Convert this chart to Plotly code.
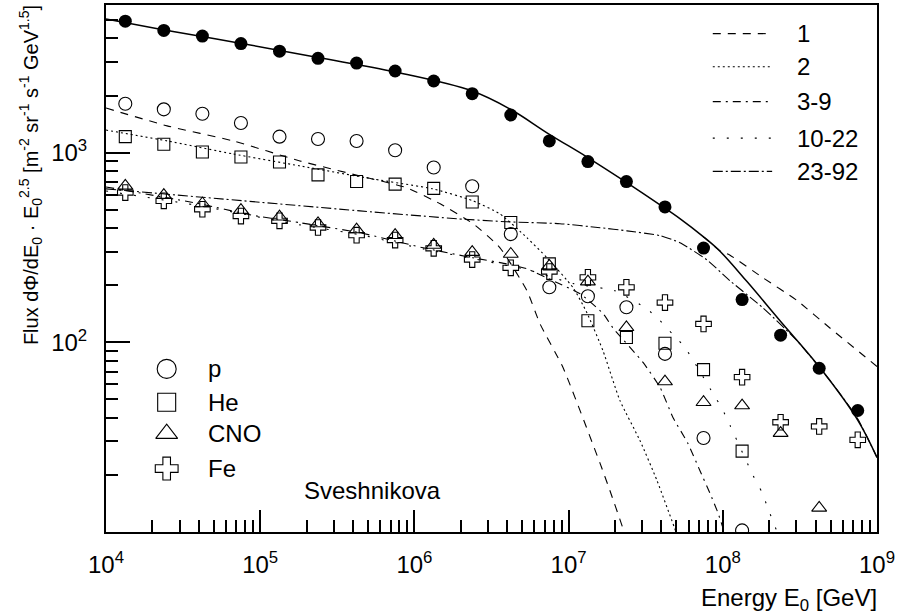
import plotly.graph_objects as go

FONT = "Liberation Sans, Arial, sans-serif"

# ---------------- data points (Sveshnikova) ----------------
energy_pts = [1.334e4, 2.371e4, 4.217e4, 7.499e4, 1.334e5, 2.371e5, 4.217e5, 7.499e5,
              1.334e6, 2.371e6, 4.217e6, 7.499e6, 1.334e7, 2.371e7, 4.217e7, 7.499e7,
              1.334e8, 2.371e8, 4.217e8, 7.499e8]

flux_all = [4931, 4405, 4113, 3757, 3428, 3140, 2966, 2693, 2385, 2045,
            1579, 1152, 897, 704, 517, 314, 168, 109, 73, 43.7]
flux_p = [1811, 1691, 1603, 1432, 1214, 1180, 1152, 1030, 834, 665,
          372, 195, 175, 153, 86.9, 31.3, 10.2]
flux_he = [1214, 1107, 1008, 949, 893, 763, 704, 682, 648, 549,
           428, 259, 130, 106, 98.8, 71.8, 26.7]
flux_cno = [668, 597, 539, 498, 459, 423, 393, 367, 326, 299,
            292, 253, 209, 120, 62.1, 48.3, 46.4, 33.2, 13.4]
flux_fe = [616, 557, 503, 463, 437, 403, 367, 346, 313, 273,
           247, 236, 220, 195, 162, 125, 65.5, 37.9, 36.0, 30.6]

# ---------------- model curves ----------------
e_total = [1.0e4, 2.34e4, 7.40e4, 2.37e5, 7.48e5, 2.37e6, 4.17e6, 7.46e6, 1.315e7, 2.29e7,
           4.09e7, 5.27e7, 7.43e7, 9.59e7, 1.435e8, 2.35e8, 4.21e8, 7.53e8, 1.0e9]
f_total = [5058, 4446, 3776, 3170, 2661, 2113, 1698, 1253, 948, 710,
           518, 449, 362, 302, 209, 130, 74.5, 38.7, 24.7]

e_z1 = [1.0e4, 2.49e4, 6.67e4, 1.81e5, 4.44e5, 8.95e5, 1.47e6, 2.40e6, 3.59e6, 5.37e6,
        6.53e6, 9.20e6, 1.60e7, 1.85e7, 2.29e7, 2.45e7]
f_z1 = [1718, 1384, 1153, 904, 753, 652, 537, 422, 315, 187,
        125, 73.6, 23.0, 16.6, 10.0, 8.0]

e_z2 = [1.0e4, 2.49e4, 6.67e4, 1.81e5, 5.40e5, 1.32e6, 2.40e6, 3.59e6, 5.37e6, 7.24e6,
        1.07e7, 1.315e7, 1.67e7, 2.15e7, 2.90e7, 3.74e7, 4.97e7, 5.30e7]
f_z2 = [1315, 1153, 984, 851, 726, 644, 557, 475, 356, 279,
        194, 143, 90.4, 49.4, 30.4, 18.7, 10.0, 8.5]

e_z3_9 = [1.0e4, 4.07e4, 8.59e4, 1.81e5, 4.44e5, 1.14e6, 2.40e6, 3.98e6, 5.37e6, 7.93e6,
          1.19e7, 1.67e7, 1.94e7, 3.04e7, 3.92e7, 4.75e7, 5.94e7, 7.10e7, 8.26e7, 9.31e7,
          1.02e8, 1.06e8]
f_z3_9 = [659, 537, 470, 427, 378, 315, 279, 259, 244, 211,
          180, 142, 119, 78.3, 57.8, 40.2, 29.3, 21.1, 16.0, 12.6,
          10.0, 8.8]

e_z10_22 = [1.0e4, 4.07e4, 1.81e5, 4.44e5, 1.14e6, 2.40e6, 3.98e6, 5.37e6, 1.07e7, 2.00e7,
            3.22e7, 3.92e7, 4.69e7, 5.69e7, 8.63e7, 9.89e7, 1.114e8, 1.57e8, 1.795e8, 1.963e8,
            2.25e8, 2.35e8]
f_z10_22 = [628, 524, 416, 369, 311, 276, 254, 242, 204, 187,
            150, 130, 111, 93.8, 53.8, 44.8, 36.5, 19.9, 16.2, 13.3,
            10.0, 9.0]

e_z23_92 = [1.0e4, 4.44e5, 1.89e6, 3.98e6, 8.79e6, 1.60e7, 2.39e7, 3.92e7, 5.27e7, 7.89e7,
            1.114e8, 1.82e8, 3.03e8, 4.95e8, 7.41e8, 1.0e9]
f_z23_92 = [644, 493, 448, 432, 422, 402, 387, 365, 335, 272,
            211, 152, 102, 63.0, 40.2, 24.7]

# extra dashed component at the highest energies
e_z1_high = [7.43e7, 9.59e7, 1.114e8, 1.82e8, 3.03e8, 4.95e8, 1.0e9]
f_z1_high = [362, 304, 288, 219, 166, 119, 74.6]

# ---------------- labels ----------------
legend_lines = ["1", "2", "3-9", "10-22", "23-92"]
legend_markers = ["p", "He", "CNO", "Fe"]
x_tickvals = [1e4, 1e5, 1e6, 1e7, 1e8, 1e9]
x_ticktext = ["10<sup>4</sup>", "10<sup>5</sup>", "10<sup>6</sup>",
              "10<sup>7</sup>", "10<sup>8</sup>", "10<sup>9</sup>"]
y_tickvals = [100, 1000]
y_ticktext = ["10<sup>2</sup>", "10<sup>3</sup>"]

# ---------------- styles ----------------
dashes = {
    "1": "8px,7px",
    "2": "2px,3px",
    "3-9": "8px,5px,2px,5px",
    "10-22": "2px,12px",
    "23-92": "10px,3px,2px,3px",
}
symbols = {"p": "circle-open", "He": "square-open", "CNO": "triangle-up-open", "Fe": "cross-open"}
sizes = {"p": 13, "He": 12, "CNO": 13, "Fe": 13}

fig = go.Figure()

curve_data = [("1", e_z1, f_z1), ("2", e_z2, f_z2), ("3-9", e_z3_9, f_z3_9),
              ("10-22", e_z10_22, f_z10_22), ("23-92", e_z23_92, f_z23_92)]
for name, ex, fy in curve_data:
    fig.add_trace(go.Scatter(x=ex, y=fy, mode="lines", showlegend=False,
                             line=dict(color="black", width=1.1, dash=dashes[name],
                                       shape="spline", smoothing=0.5)))
fig.add_trace(go.Scatter(x=e_z1_high, y=f_z1_high, mode="lines", showlegend=False,
                         line=dict(color="black", width=1.1, dash=dashes["1"],
                                   shape="spline", smoothing=0.5)))
fig.add_trace(go.Scatter(x=e_total, y=f_total, mode="lines", showlegend=False,
                         line=dict(color="black", width=1.5, shape="spline", smoothing=1.0)))

point_data = [("p", flux_p), ("He", flux_he), ("CNO", flux_cno), ("Fe", flux_fe)]
for name, fy in point_data:
    fig.add_trace(go.Scatter(x=energy_pts[:len(fy)], y=fy, mode="markers", showlegend=False,
                             marker=dict(symbol=symbols[name], size=sizes[name], color="black",
                                         line=dict(color="black", width=1.1))))
fig.add_trace(go.Scatter(x=energy_pts, y=flux_all, mode="markers", showlegend=False,
                         marker=dict(symbol="circle", size=13, color="black")))

# ---------------- hand-made legends (overlay axes 0..1) ----------------
line_rows = [0.9457, 0.8828, 0.8166, 0.7473, 0.6843]
for name, yy in zip(legend_lines, line_rows):
    fig.add_trace(go.Scatter(x=[0.787, 0.864], y=[yy, yy], xaxis="x2", yaxis="y2",
                             mode="lines", showlegend=False,
                             line=dict(color="black", width=1.1, dash=dashes[name])))
    fig.add_annotation(x=0.8936, y=yy, xref="paper", yref="paper", text=name,
                       showarrow=False, xanchor="left", yanchor="middle",
                       font=dict(family=FONT, size=24, color="black"))

marker_rows = [0.3095, 0.2463, 0.1866, 0.1204]
for name, yy in zip(legend_markers, marker_rows):
    fig.add_trace(go.Scatter(x=[0.0787], y=[yy], xaxis="x2", yaxis="y2",
                             mode="markers", showlegend=False,
                             marker=dict(symbol=symbols[name], size=sizes[name] + 6, color="black",
                                         line=dict(color="black", width=1.1))))
    fig.add_annotation(x=0.1297, y=yy, xref="paper", yref="paper", text=name,
                       showarrow=False, xanchor="left", yanchor="middle",
                       font=dict(family=FONT, size=24, color="black"))

fig.add_annotation(x=0.3457, y=0.078, xref="paper", yref="paper", text="Sveshnikova",
                   showarrow=False, xanchor="center", yanchor="middle",
                   font=dict(family=FONT, size=24, color="black"))

# axis titles
fig.add_annotation(x=1.003, y=-0.094, xref="paper", yref="paper",
                   text="Energy E<sub>0</sub> [GeV]", showarrow=False,
                   xanchor="right", yanchor="top",
                   font=dict(family=FONT, size=24, color="black"))
fig.add_annotation(x=-0.097, y=1.004, xref="paper", yref="paper",
                   text="Flux dΦ/dE<sub>0</sub> · E<sub>0</sub><sup>2.5</sup> [m<sup>-2</sup> sr<sup>-1</sup> s<sup>-1</sup> GeV<sup>1.5</sup>]",
                   showarrow=False, textangle=-90, xanchor="center", yanchor="top",
                   font=dict(family=FONT, size=20, color="black"))

x_minor = [m * 10 ** d for d in range(4, 9) for m in range(2, 10)]
y_minor = [m * 10 ** d for d in range(1, 4) for m in range(2, 10) if m * 10 ** d <= 6000]

axis_common = dict(showline=True, linecolor="black", linewidth=2, mirror=True,
                   ticks="inside", tickcolor="black", tickwidth=1.5,
                   showgrid=False, zeroline=False, tickmode="array",
                   tickfont=dict(family=FONT, size=24, color="black"))

fig.update_layout(
    width=907, height=614,
    margin=dict(l=106, r=30, t=3, b=82),
    paper_bgcolor="white", plot_bgcolor="white",
    font=dict(family=FONT, color="black"),
    xaxis=dict(type="log", range=[4, 9], tickvals=x_tickvals, ticktext=x_ticktext,
               ticklen=22, ticklabelstandoff=10,
               minor=dict(ticks="inside", ticklen=12, tickwidth=1.5, tickcolor="black",
                          tickvals=x_minor, showgrid=False),
               **axis_common),
    yaxis=dict(type="log", range=[1, 3.7782], tickvals=y_tickvals, ticktext=y_ticktext,
               ticklen=24, ticklabelstandoff=12,
               minor=dict(ticks="inside", ticklen=12, tickwidth=1.5, tickcolor="black",
                          tickvals=y_minor, showgrid=False),
               **axis_common),
    xaxis2=dict(overlaying="x", range=[0, 1], visible=False, fixedrange=True,
                showticklabels=False),
    yaxis2=dict(overlaying="y", range=[0, 1], visible=False, fixedrange=True,
                showticklabels=False),
    showlegend=False,
)

fig.write_html("out.html")
